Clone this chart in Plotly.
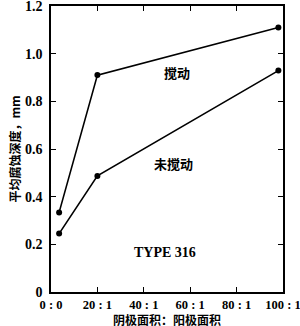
import plotly.graph_objects as go

ratio_x = [3.5, 20, 98]
stirred = [0.334, 0.91, 1.11]
unstirred = [0.245, 0.487, 0.929]
x_tick_vals = [0, 20, 40, 60, 80, 100]
x_tick_text = ["0 : 0", "20 : 1", "40 : 1", "60 : 1", "80 : 1", "100 : 1"]
y_tick_vals = [0, 0.2, 0.4, 0.6, 0.8, 1.0, 1.2]
y_tick_text = ["0", "0.2", "0.4", "0.6", "0.8", "1.0", "1.2"]

serif = "Liberation Serif, Times New Roman, serif"
cjk = "Noto Sans CJK SC, sans-serif"

fig = go.Figure()
for ys in (stirred, unstirred):
    fig.add_trace(go.Scatter(
        x=ratio_x, y=ys, mode="lines+markers",
        line=dict(color="black", width=1.6),
        marker=dict(color="black", size=6),
        showlegend=False, cliponaxis=False))

fig.add_annotation(x=54.3, y=0.923, text="<b>搅动</b>", showarrow=False,
                   font=dict(family=cjk, size=13, color="black"))
fig.add_annotation(x=52.6, y=0.541, text="<b>未搅动</b>", showarrow=False,
                   font=dict(family=cjk, size=13, color="black"))
fig.add_annotation(x=49, y=0.164, text="<b>TYPE 316</b>", showarrow=False,
                   font=dict(family=serif, size=14, color="black"))
# x-axis title placed as paper annotation
fig.add_annotation(x=0.5, xref="paper", y=0, yref="paper", yshift=-27,
                   yanchor="middle", text="<b>阴极面积：阳极面积</b>",
                   showarrow=False,
                   font=dict(family=cjk, size=12, color="black"))

fig.update_layout(
    width=300, height=326,
    margin=dict(l=51, r=17, t=6, b=34),
    paper_bgcolor="white", plot_bgcolor="white",
    xaxis=dict(range=[-0.001, 100.001], tickvals=x_tick_vals,
               ticktext=["<b>%s</b>" % t for t in x_tick_text],
               showline=True, linecolor="black", linewidth=1.5, mirror="ticks",
               ticks="inside", ticklen=5, tickcolor="black", showgrid=False,
               zeroline=False, ticklabelstandoff=0, ticklabeloverflow="allow",
               automargin=False,
               tickfont=dict(family=serif, size=12.5, color="black")),
    yaxis=dict(range=[0, 1.2], tickvals=y_tick_vals,
               ticktext=["<b>%s</b>" % t for t in y_tick_text],
               showline=True, linecolor="black", linewidth=1.5, mirror="ticks",
               ticks="inside", ticklen=5, tickcolor="black", showgrid=False,
               zeroline=False, ticklabelstandoff=4, ticklabeloverflow="allow",
               automargin=False,
               tickfont=dict(family=serif, size=14, color="black"),
               title=dict(text="<b>平均腐蚀深度，mm</b>", standoff=2,
                          font=dict(family=cjk, size=12, color="black"))),
)
fig.write_html("out.html")
